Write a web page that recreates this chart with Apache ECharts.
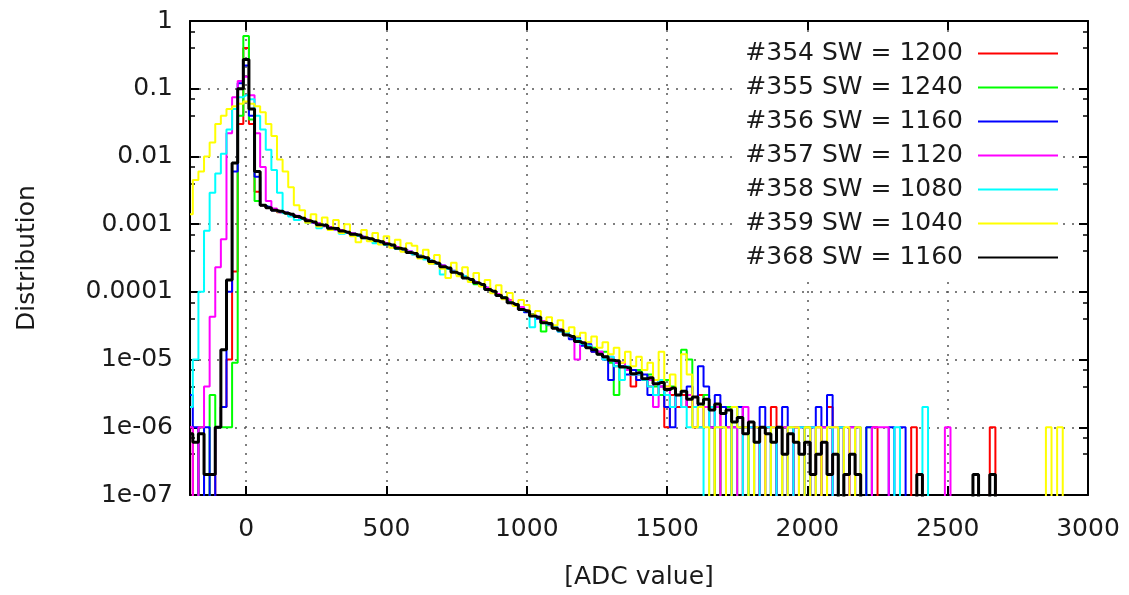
<!DOCTYPE html>
<html>
<head>
<meta charset="utf-8">
<script src="https://cdn.jsdelivr.net/npm/echarts@6/dist/echarts.min.js"></script>
<style>
  html, body { margin: 0; padding: 0; background: #fff; }
  #chart { width: 1129px; height: 595px; }
</style>
</head>
<body>
<div id="chart"></div>
<script>
// histogram bins: centres from -200 in steps of 20 ADC counts
var BIN_START = -200;
var BIN_WIDTH = 20;

var seriesNames = [
    '#354 SW = 1200', '#355 SW = 1240', '#356 SW = 1160', '#357 SW = 1120',
    '#358 SW = 1080', '#359 SW = 1040', '#368 SW = 1160'
];
var seriesColors = ['#ff0000', '#00ff00', '#0000ff', '#ff00ff', '#00ffff', '#ffff00', '#000000'];

var yTickLabels = ['1', '0.1', '0.01', '0.001', '0.0001', '1e-05', '1e-06', '1e-07'];

// one row = 10 bins (200 ADC counts); 0 = empty bin
var run354 = [
    1e-6, 0, 1e-6, 0, 0, 1e-6, 2e-6, 1e-5, 2e-4, 0.03,
    0.4, 0.03, 3e-3, 1.9e-3, 1.75e-3, 1.62e-3, 1.5e-3, 1.47e-3, 1.38e-3, 1.28e-3,
    1.23e-3, 1.12e-3, 1.07e-3, 9.9e-4, 9.4e-4, 8.9e-4, 8.4e-4, 7.8e-4, 7.6e-4, 7.0e-4,
    6.8e-4, 6.4e-4, 6.0e-4, 5.8e-4, 5.4e-4, 5.0e-4, 4.8e-4, 4.5e-4, 4.2e-4, 3.9e-4,
    3.7e-4, 3.4e-4, 3.1e-4, 2.9e-4, 2.6e-4, 2.4e-4, 2.2e-4, 2.0e-4, 1.8e-4, 1.65e-4,
    1.5e-4, 1.4e-4, 1.25e-4, 1.12e-4, 1.0e-4, 9.0e-5, 8.0e-5, 7.3e-5, 6.4e-5, 5.8e-5,
    5.3e-5, 4.6e-5, 4.2e-5, 3.7e-5, 3.2e-5, 2.9e-5, 2.7e-5, 2.3e-5, 2.1e-5, 1.9e-5,
    1.7e-5, 1.6e-5, 1.3e-5, 1.2e-5, 1.1e-5, 1.0e-5, 8e-6, 9e-6, 7e-6, 4e-6,
    6e-6, 5e-6, 4e-6, 5e-6, 3e-6, 1e-6, 3e-6, 2e-6, 3e-6, 2e-6,
    1e-6, 3e-6, 2e-6, 1e-6, 0, 2e-6, 1e-6, 2e-6, 2e-6, 0,
    1e-6, 0, 1e-6, 1e-6, 2e-6, 0, 1e-6, 0, 1e-6, 0,
    1e-6, 0, 1e-6, 0, 2e-6, 0, 1e-6, 0, 0, 1e-6,
    0, 0, 1e-6, 0, 0, 0, 0, 0, 0, 1e-6,
    0, 0, 0, 0, 0, 0, 0, 0, 0, 0,
    0, 0, 0, 1e-6, 0, 0, 0, 0, 0, 0,
    0, 0, 0, 0, 0, 0, 0, 0, 0, 0
];
var run355 = [
    0, 0, 1e-6, 0, 3e-6, 1e-6, 1e-6, 1e-6, 9e-6, 0.04,
    0.6, 0.035, 2.2e-3, 1.9e-3, 1.78e-3, 1.63e-3, 1.52e-3, 1.43e-3, 1.37e-3, 1.31e-3,
    1.2e-3, 1.14e-3, 1.06e-3, 1.01e-3, 9.5e-4, 8.8e-4, 8.5e-4, 7.9e-4, 7.5e-4, 7.2e-4,
    6.8e-4, 6.3e-4, 6.1e-4, 5.6e-4, 5.5e-4, 5.1e-4, 4.7e-4, 4.5e-4, 4.1e-4, 4.0e-4,
    3.6e-4, 3.3e-4, 3.2e-4, 2.8e-4, 2.7e-4, 2.4e-4, 2.2e-4, 2.0e-4, 1.85e-4, 1.7e-4,
    1.5e-4, 1.3e-4, 1.25e-4, 1.1e-4, 1.0e-4, 9.0e-5, 8.3e-5, 7.2e-5, 6.6e-5, 5.8e-5,
    5.1e-5, 4.7e-5, 4.1e-5, 2.6e-5, 3.4e-5, 3.0e-5, 2.8e-5, 2.3e-5, 2.2e-5, 1.9e-5,
    1.8e-5, 1.5e-5, 1.5e-5, 1.2e-5, 1.3e-5, 9e-6, 3e-6, 8e-6, 7e-6, 6e-6,
    7e-6, 5e-6, 6e-6, 4e-6, 3e-6, 5e-6, 4e-6, 3e-6, 1.4e-5, 1e-5,
    2e-6, 1e-6, 3e-6, 1e-6, 0, 1e-6, 2e-6, 0, 1e-6, 1e-6,
    0, 1e-6, 1e-6, 0, 1e-6, 0, 1e-6, 1e-6, 0, 0,
    1e-6, 0, 0, 1e-6, 0, 0, 1e-6, 0, 0, 0,
    0, 1e-6, 0, 0, 0, 0, 0, 0, 0, 0,
    0, 0, 0, 0, 0, 0, 0, 0, 0, 0,
    0, 0, 0, 0, 0, 0, 0, 0, 0, 0,
    0, 0, 0, 0, 0, 0, 0, 0, 0, 0
];
var run356 = [
    3e-6, 1e-6, 0, 1e-6, 0, 1e-6, 2e-6, 1e-4, 6e-3, 0.12,
    0.22, 0.04, 5e-3, 1.9e-3, 1.8e-3, 1.6e-3, 1.5e-3, 1.48e-3, 1.35e-3, 1.32e-3,
    1.2e-3, 1.15e-3, 1.04e-3, 1.02e-3, 9.3e-4, 9.0e-4, 8.3e-4, 8.1e-4, 7.4e-4, 7.3e-4,
    6.7e-4, 6.5e-4, 6.0e-4, 5.8e-4, 5.3e-4, 5.2e-4, 4.7e-4, 4.5e-4, 4.1e-4, 4.0e-4,
    3.6e-4, 3.4e-4, 3.1e-4, 2.9e-4, 2.6e-4, 2.45e-4, 2.2e-4, 2.05e-4, 1.8e-4, 1.7e-4,
    1.48e-4, 1.4e-4, 1.22e-4, 1.15e-4, 1.0e-4, 9.2e-5, 8.0e-5, 7.4e-5, 6.4e-5, 5.9e-5,
    5.0e-5, 4.6e-5, 4.0e-5, 3.6e-5, 3.3e-5, 3.0e-5, 2.6e-5, 2.5e-5, 2.0e-5, 2.1e-5,
    1.6e-5, 1.7e-5, 1.3e-5, 1.3e-5, 1.0e-5, 5e-6, 9e-6, 8e-6, 6e-6, 7e-6,
    5e-6, 6e-6, 3e-6, 5e-6, 4e-6, 2e-6, 1e-6, 3e-6, 2e-6, 4e-6,
    2e-6, 8e-6, 4e-6, 1e-6, 3e-6, 2e-6, 0, 1e-6, 2e-6, 1e-6,
    1e-6, 0, 2e-6, 1e-6, 0, 1e-6, 2e-6, 0, 1e-6, 1e-6,
    0, 1e-6, 2e-6, 1e-6, 3e-6, 0, 1e-6, 0, 1e-6, 0,
    0, 1e-6, 0, 0, 0, 1e-6, 0, 1e-6, 0, 0,
    0, 0, 0, 0, 0, 0, 0, 0, 0, 0,
    0, 0, 0, 0, 0, 0, 0, 0, 0, 0,
    0, 0, 0, 0, 0, 0, 0, 0, 0, 0
];
var run357 = [
    1e-6, 0, 1e-6, 4e-6, 4.3e-5, 2.3e-4, 6e-4, 0.022, 0.075, 0.13,
    0.15, 0.08, 0.022, 7e-3, 2.2e-3, 1.7e-3, 1.55e-3, 1.46e-3, 1.36e-3, 1.33e-3,
    1.2e-3, 1.16e-3, 1.05e-3, 1.02e-3, 9.4e-4, 9.0e-4, 8.3e-4, 8.1e-4, 7.5e-4, 7.3e-4,
    6.8e-4, 6.4e-4, 6.1e-4, 5.7e-4, 5.5e-4, 5.2e-4, 4.7e-4, 4.6e-4, 4.2e-4, 4.0e-4,
    3.7e-4, 3.4e-4, 3.2e-4, 2.9e-4, 2.7e-4, 2.45e-4, 2.25e-4, 2.0e-4, 1.85e-4, 1.7e-4,
    1.5e-4, 1.4e-4, 1.25e-4, 1.15e-4, 1.02e-4, 9.3e-5, 8.1e-5, 7.6e-5, 6.5e-5, 6.0e-5,
    5.3e-5, 4.6e-5, 4.3e-5, 3.7e-5, 3.4e-5, 3.0e-5, 2.8e-5, 2.4e-5, 2.2e-5, 1.0e-5,
    1.8e-5, 1.6e-5, 1.4e-5, 1.3e-5, 1.1e-5, 1.1e-5, 9e-6, 9e-6, 7e-6, 6e-6,
    6e-6, 5e-6, 5e-6, 2e-6, 4e-6, 4e-6, 2e-6, 3e-6, 2e-6, 3e-6,
    2e-6, 1e-6, 2e-6, 1e-6, 2e-6, 0, 1e-6, 1e-6, 0, 2e-6,
    1e-6, 1e-6, 0, 1e-6, 1e-6, 0, 1e-6, 0, 1e-6, 1e-6,
    0, 1e-6, 0, 1e-6, 0, 1e-6, 1e-6, 0, 1e-6, 0,
    0, 0, 1e-6, 1e-6, 1e-6, 0, 0, 0, 0, 0,
    0, 0, 0, 0, 0, 1e-6, 0, 0, 0, 0,
    0, 0, 0, 0, 0, 0, 0, 0, 0, 0,
    0, 0, 0, 0, 0, 0, 0, 0, 0, 0
];
var run358 = [
    2e-6, 1e-5, 1e-4, 8e-4, 2.9e-3, 5.6e-3, 0.011, 0.025, 0.05, 0.075,
    0.08, 0.07, 0.04, 0.025, 0.0126, 6.3e-3, 2.9e-3, 1.45e-3, 1.3e-3, 1.15e-3,
    1.2e-3, 1.05e-3, 1.08e-3, 8.7e-4, 9.6e-4, 8.4e-4, 8.5e-4, 7.2e-4, 7.6e-4, 6.8e-4,
    6.7e-4, 6.2e-4, 6.0e-4, 5.2e-4, 5.4e-4, 4.9e-4, 4.8e-4, 4.3e-4, 4.2e-4, 3.9e-4,
    3.6e-4, 3.4e-4, 3.0e-4, 2.9e-4, 2.6e-4, 1.8e-4, 2.2e-4, 2.0e-4, 1.8e-4, 1.7e-4,
    1.5e-4, 1.35e-4, 1.25e-4, 1.1e-4, 1.0e-4, 8.8e-5, 8.2e-5, 7.0e-5, 6.6e-5, 5.6e-5,
    5.2e-5, 3.0e-5, 4.3e-5, 3.6e-5, 3.3e-5, 3.0e-5, 2.6e-5, 2.5e-5, 2.2e-5, 2.0e-5,
    1.7e-5, 1.6e-5, 1.4e-5, 1.2e-5, 1.0e-5, 1.1e-5, 8e-6, 5e-6, 8e-6, 6e-6,
    6e-6, 5e-6, 4e-6, 3e-6, 5e-6, 3e-6, 2e-6, 3e-6, 2e-6, 1e-6,
    2e-6, 1e-6, 0, 2e-6, 1e-6, 1e-6, 0, 2e-6, 1e-6, 0,
    1e-6, 0, 1e-6, 1e-6, 0, 1e-6, 0, 1e-6, 0, 1e-6,
    0, 1e-6, 0, 0, 1e-6, 0, 1e-6, 0, 0, 1e-6,
    0, 0, 0, 0, 0, 0, 1e-6, 0, 0, 0,
    0, 2e-6, 0, 0, 0, 0, 0, 0, 0, 0,
    0, 0, 0, 0, 0, 0, 0, 0, 0, 0,
    0, 0, 0, 0, 0, 0, 0, 0, 0, 0
];
var run359 = [
    1.4e-3, 4.5e-3, 6e-3, 0.01, 0.016, 0.03, 0.04, 0.05, 0.055, 0.06,
    0.065, 0.06, 0.055, 0.045, 0.03, 0.02, 9e-3, 6e-3, 3.5e-3, 1.9e-3,
    1.6e-3, 1.05e-3, 1.4e-3, 9.2e-4, 1.25e-3, 8.2e-4, 1.15e-3, 7.4e-4, 1.0e-3, 6.6e-4,
    5.4e-4, 8.2e-4, 5.6e-4, 7.4e-4, 5.0e-4, 6.6e-4, 4.5e-4, 5.9e-4, 3.9e-4, 5.2e-4,
    4.8e-4, 3.1e-4, 4.2e-4, 2.6e-4, 3.5e-4, 2.2e-4, 1.6e-4, 2.7e-4, 1.7e-4, 2.3e-4,
    1.4e-4, 1.9e-4, 1.2e-4, 1.5e-4, 9.5e-5, 1.25e-4, 7.8e-5, 9.6e-5, 6.2e-5, 7.6e-5,
    6.4e-5, 4.6e-5, 5.2e-5, 3.6e-5, 4.2e-5, 3.2e-5, 3.8e-5, 2.6e-5, 3.0e-5, 2.2e-5,
    2.5e-5, 1.8e-5, 2.2e-5, 1.5e-5, 1.8e-5, 1.2e-5, 1.5e-5, 9e-6, 1.3e-5, 8e-6,
    1.1e-5, 7e-6, 9e-6, 5e-6, 1.3e-5, 4e-6, 6e-6, 3e-6, 1.2e-5, 6e-6,
    1e-6, 2e-6, 1e-6, 0, 1e-6, 1e-6, 0, 2e-6, 1e-6, 1e-6,
    0, 1e-6, 1e-6, 0, 1e-6, 1e-6, 0, 1e-6, 1e-6, 0,
    1e-6, 0, 1e-6, 0, 1e-6, 1e-6, 0, 1e-6, 0, 1e-6,
    0, 0, 0, 0, 0, 0, 0, 0, 0, 0,
    0, 0, 0, 0, 0, 0, 0, 0, 0, 0,
    0, 0, 0, 0, 0, 0, 0, 0, 0, 0,
    0, 0, 0, 1e-6, 0, 1e-6, 0, 0, 0, 0
];
var run368 = [
    8e-7, 6e-7, 8e-7, 2e-7, 2e-7, 1e-6, 1.4e-5, 1.5e-4, 8e-3, 0.1,
    0.27, 0.05, 6e-3, 1.9e-3, 1.75e-3, 1.6e-3, 1.55e-3, 1.45e-3, 1.4e-3, 1.3e-3,
    1.22e-3, 1.12e-3, 1.08e-3, 9.8e-4, 9.6e-4, 8.7e-4, 8.6e-4, 7.9e-4, 7.6e-4, 7.1e-4,
    6.9e-4, 6.3e-4, 6.1e-4, 5.7e-4, 5.5e-4, 5.1e-4, 4.9e-4, 4.4e-4, 4.3e-4, 3.8e-4,
    3.7e-4, 3.3e-4, 3.2e-4, 2.8e-4, 2.65e-4, 2.35e-4, 2.25e-4, 1.95e-4, 1.85e-4, 1.6e-4,
    1.52e-4, 1.36e-4, 1.28e-4, 1.08e-4, 1.02e-4, 8.8e-5, 8.2e-5, 6.9e-5, 6.5e-5, 5.5e-5,
    5.2e-5, 4.4e-5, 4.2e-5, 3.5e-5, 3.4e-5, 2.9e-5, 2.7e-5, 2.3e-5, 2.2e-5, 1.85e-5,
    1.75e-5, 1.5e-5, 1.4e-5, 1.2e-5, 1.1e-5, 9.8e-6, 9.6e-6, 7.8e-6, 7.6e-6, 6.2e-6,
    6.4e-6, 5.2e-6, 5.4e-6, 4.4e-6, 4.6e-6, 3.6e-6, 3.8e-6, 3.0e-6, 3.4e-6, 2.6e-6,
    2.8e-6, 2.2e-6, 2.6e-6, 1.8e-6, 2.2e-6, 1.6e-6, 1.8e-6, 1.2e-6, 1.4e-6, 8e-7,
    1.2e-6, 6e-7, 1.0e-6, 8e-7, 6e-7, 1.0e-6, 4e-7, 8e-7, 6e-7, 4e-7,
    6e-7, 2e-7, 4e-7, 6e-7, 2e-7, 4e-7, 0, 2e-7, 4e-7, 2e-7,
    0, 0, 0, 0, 0, 0, 0, 0, 0, 0,
    2e-7, 0, 0, 0, 0, 0, 0, 0, 0, 0,
    2e-7, 0, 0, 2e-7, 0, 0, 0, 0, 0, 0,
    0, 0, 0, 0, 0, 0, 0, 0, 0, 0
];

var allRuns = [run354, run355, run356, run357, run358, run359, run368];

// empty bins drop below the visible range (log axis cannot show 0)
var EMPTY = 1e-9;

var myChart = echarts.init(document.getElementById('chart'));
var font = 'DejaVu Sans';

var series = allRuns.map(function (vals, k) {
    return {
        name: seriesNames[k],
        type: 'line',
        step: 'middle',
        symbol: 'none',
        clip: true,
        color: seriesColors[k],
        lineStyle: { width: k === 6 ? 3 : 2, color: seriesColors[k] },
        data: vals.map(function (v, i) {
            return [BIN_START + i * BIN_WIDTH, v > 0 ? v : EMPTY];
        })
    };
});

var gridDots = { color: '#555', width: 1.5, type: [2, 7] };
var boxLine = { show: true, onZero: false, lineStyle: { color: '#000', width: 2 } };
var majorTick = { show: true, inside: true, length: 9, lineStyle: { color: '#000', width: 2 } };
var minorTick = { show: true, splitNumber: 3, length: 5, lineStyle: { color: '#000', width: 1.5 } };

var option = {
    animation: false,
    backgroundColor: '#fff',
    grid: { left: 190, right: 41, top: 21, bottom: 100 },
    legend: {
        orient: 'vertical',
        align: 'right',
        right: 67,
        top: 36,
        icon: 'rect',
        itemWidth: 80,
        itemHeight: 2,
        itemGap: 9,
        padding: [5, 4, 5, 10],
        backgroundColor: '#fff',
        textStyle: { fontFamily: font, fontSize: 25, lineHeight: 25, color: '#1a1a1a', padding: [0, 10, 0, 0] },
        data: seriesNames
    },
    xAxis: [{
        type: 'value',
        min: -200,
        max: 3000,
        name: '[ADC value]',
        nameLocation: 'middle',
        nameGap: 70,
        nameTextStyle: { fontFamily: font, fontSize: 25, color: '#1a1a1a' },
        axisLine: boxLine,
        axisTick: majorTick,
        axisLabel: {
            showMinLabel: false, margin: 22, fontFamily: font, fontSize: 25, color: '#1a1a1a',
            formatter: function (v) { return String(v); }
        },
        splitLine: { show: true, lineStyle: gridDots }
    }, {
        type: 'value',
        position: 'top',
        min: -200,
        max: 3000,
        axisLine: boxLine,
        axisTick: majorTick,
        axisLabel: { show: false },
        splitLine: { show: false }
    }],
    yAxis: [{
        type: 'log',
        logBase: 10,
        min: 1e-7,
        max: 1,
        splitNumber: 7,
        name: 'Distribution',
        nameLocation: 'middle',
        nameGap: 150,
        nameTextStyle: { fontFamily: font, fontSize: 25, color: '#1a1a1a' },
        axisLine: boxLine,
        axisTick: majorTick,
        minorTick: minorTick,
        axisLabel: {
            margin: 17,
            fontFamily: font,
            fontSize: 25,
            color: '#1a1a1a',
            formatter: function (v) {
                return yTickLabels[Math.round(-Math.log10(v))];
            }
        },
        splitLine: { show: true, lineStyle: gridDots }
    }, {
        type: 'log',
        logBase: 10,
        min: 1e-7,
        max: 1,
        splitNumber: 7,
        position: 'right',
        axisLine: boxLine,
        axisTick: majorTick,
        minorTick: minorTick,
        axisLabel: { show: false },
        splitLine: { show: false }
    }],
    series: series
};

myChart.setOption(option);
window.addEventListener('resize', function () {
    myChart.resize();
});
</script>
</body>
</html>
